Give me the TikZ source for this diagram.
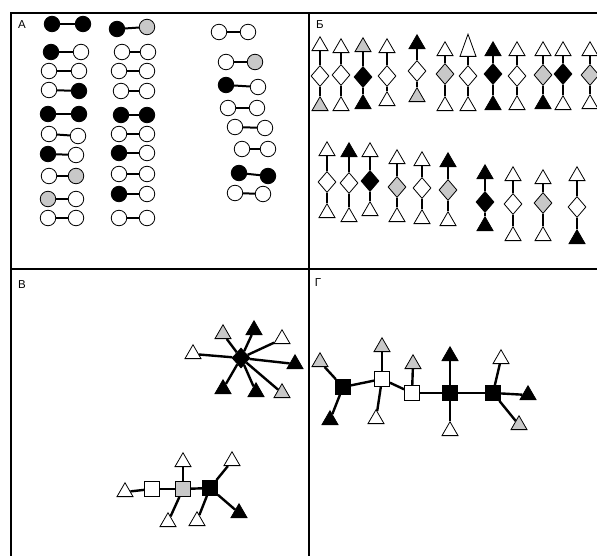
\documentclass[tikz,border=0pt]{standalone}
\usepackage{fontspec}
\setmainfont{Liberation Sans}
\usetikzlibrary{shapes.geometric}
\definecolor{mgray}{RGB}{200,200,200}

\begin{document}
\begin{tikzpicture}[x=1pt,y=-1pt,
  circ/.style={circle,draw,line width=0.8pt,minimum size=15.5pt,inner sep=0pt},
  tri/.style={regular polygon,regular polygon sides=3,draw,line width=0.8pt,minimum size=18.5pt,inner sep=0pt},
  dia/.style={diamond,draw,line width=0.8pt,minimum width=18pt,minimum height=21pt,inner sep=0pt},
  sq/.style={rectangle,draw,line width=0.8pt,minimum size=15pt,inner sep=0pt},
  frame/.style={line width=1.3pt},
  linkA/.style={line width=2pt},
  linkB/.style={line width=2.6pt},
  linkC/.style={line width=2.4pt},
  lbl/.style={font=\fontsize{11.5}{13}\selectfont,inner sep=0pt}
]
\useasboundingbox (0,0) rectangle (597,556);

% panel frame
\draw[frame] (597,13) -- (11,13) -- (11,556);
\draw[frame] (309,13) -- (309,556);
\draw[frame] (11,269) -- (597,269);

% panel labels
\node[lbl] (labA) at (22,25) {А};
\node[lbl] (labB) at (320,25) {Б};
\node[lbl] (labV) at (22,285) {В};
\node[lbl] (labG) at (318,283) {Г};

% ---------- panel A: pairs of circles ----------
\foreach \xl/\yl/\fl/\xr/\yr/\fr [count=\i] in {
  52/24/black/83/24/black, 51/52/black/81/52/white, 49/71/white/79/71/white,
  49/90/white/79/91/black, 48/114/black/79/114/black, 49/134/white/78/136/white,
  48/154/black/76/155/white, 49/176/white/76/176/mgray, 48/199/mgray/76/199/white,
  48/218/white/76/218/white,
  117/29/black/147/27/mgray, 122/52/white/148/52/white, 119/71/white/147/71/white,
  121/91/white/147/91/white, 121/115/black/147/115/black, 119/134/white/147/134/white,
  119/153/black/147/153/white, 119/174/white/147/174/white, 119/194/black/147/194/white,
  119/218/white/147/218/white,
  219/32/white/248/32/white, 226/62/white/255/62/mgray, 226/85/black/258/87/white,
  228/108/white/257/108/white, 235/127/white/265/128/white, 242/149/white/268/149/white,
  239/173/black/268/176/black, 235/193/white/263/194/white}
{
  \node[circ,fill=\fl] (al\i) at (\xl,\yl) {};
  \node[circ,fill=\fr] (ar\i) at (\xr,\yr) {};
  \draw[linkA] (al\i) -- (ar\i);
}

% ---------- panel B: triangle - diamond - triangle chains ----------
\foreach \x/\yt/\ft/\yd/\fd/\yb/\fb [count=\i] in {
  320/46/white/76/white/106/mgray, 341/48/white/75/white/106/white,
  363/47/mgray/77/black/104/black, 387/48/white/76/white/101/white,
  417/44/black/71/white/97/mgray, 445/51/white/74/mgray/106/white,
  493/51/black/74/black/105/black, 517/51/white/76/white/105/white,
  543/51/white/75/mgray/104/black, 563/51/white/74/black/105/white,
  590/51/white/75/mgray/104/white,
  327/151/white/182/white/213/white, 349/152/black/183/white/217/white,
  370/152/white/181/black/211/white, 397/159/white/187/mgray/217/white,
  422/161/white/188/white/219/white, 448/162/black/190/mgray/221/white,
  485/174/black/202/black/226/black, 513/176/white/204/white/236/white,
  543/179/white/203/mgray/236/white, 577/176/white/207/white/239/black}
{
  \node[tri,fill=\ft] (bt\i) at (\x,\yt) {};
  \node[dia,fill=\fd] (bd\i) at (\x,\yd) {};
  \node[tri,fill=\fb] (bb\i) at (\x,\yb) {};
  \draw[linkB] (bt\i) -- (bd\i);
  \draw[linkB] (bd\i) -- (bb\i);
}
% chain with the tall top triangle
\begin{scope}[shift={(468,49)},yscale=1.6]
  \node[tri,fill=white,transform shape] (btt) at (0,0) {};
\end{scope}
\node[dia,fill=white] (bdt) at (468,76) {};
\node[tri,fill=white] (bbt) at (468,106) {};
\draw[linkB] (btt) -- (bdt);
\draw[linkB] (bdt) -- (bbt);

% ---------- panel V: star and chain of squares ----------
\node[dia,fill=black,minimum width=18pt,minimum height=20pt] (vc) at (241,358) {};
\foreach \x/\y/\f [count=\i] in {
  223/334/mgray, 254/330/black, 282/339/white, 193/354/white,
  295/364/black, 223/389/black, 256/392/black, 282/393/mgray}
{
  \node[tri,fill=\f] (vt\i) at (\x,\y) {};
  \draw[linkC] (vc) -- (vt\i);
}

\node[sq,fill=white] (vs1) at (152,489) {};
\node[sq,fill=mgray] (vs2) at (183,489) {};
\node[sq,fill=black] (vs3) at (210,488) {};
\draw[linkC] (vs1) -- (vs2);
\draw[linkC] (vs2) -- (vs3);
\foreach \x/\y/\f/\s [count=\i] in {
  125/492/white/1, 183/462/white/2, 168/522/white/2,
  197/521/white/3, 232/461/white/3, 239/513/black/3}
{
  \node[tri,fill=\f] (vu\i) at (\x,\y) {};
  \draw[linkC] (vs\s) -- (vu\i);
}

% ---------- panel G: tree of squares ----------
\node[sq,fill=black] (gs1) at (343,387) {};
\node[sq,fill=white] (gs2) at (382,379) {};
\node[sq,fill=white] (gs3) at (412,393) {};
\node[sq,fill=black] (gs4) at (450,393) {};
\node[sq,fill=black] (gs5) at (493,393) {};
\draw[linkC] (gs1) -- (gs2);
\draw[linkC] (gs2) -- (gs3);
\draw[linkC] (gs3) -- (gs4);
\draw[linkC] (gs4) -- (gs5);
\foreach \x/\y/\f/\s [count=\i] in {
  320/362/mgray/1, 330/420/black/1, 382/347/mgray/2, 376/419/white/2,
  413/364/mgray/3, 450/356/black/4, 450/431/white/4, 501/359/white/5,
  528/395/black/5, 519/425/mgray/5}
{
  \node[tri,fill=\f] (gt\i) at (\x,\y) {};
  \draw[linkC] (gs\s) -- (gt\i);
}
\end{tikzpicture}
\end{document}
